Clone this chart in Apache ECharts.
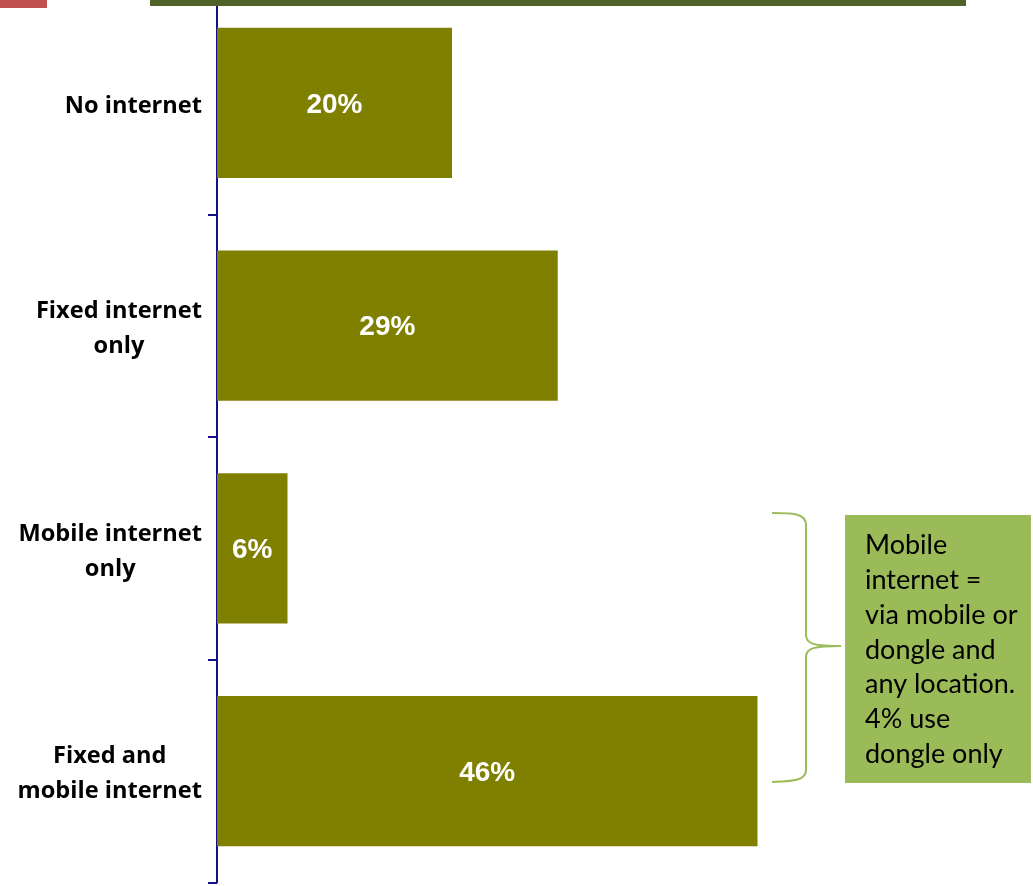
<!DOCTYPE html>
<html>
<head>
<meta charset="utf-8">
<title>Internet access</title>
<script src="https://cdn.jsdelivr.net/npm/echarts@6/dist/echarts.min.js"></script>
<style>
  html, body { margin: 0; padding: 0; background: #ffffff; }
  #chart { width: 1033px; height: 886px; }
</style>
</head>
<body>
<div id="chart"></div>
<script>
// Share of households by type of internet access (%)
const categories = ['No internet', 'Fixed internet\nonly', 'Mobile internet\nonly', 'Fixed and\nmobile internet'];
const shares = [20, 29, 6, 46];
const noteLines = ['Mobile', 'internet =', 'via mobile or', 'dongle and', 'any location.', '4% use', 'dongle only'];

const chart = echarts.init(document.getElementById('chart'), null, { renderer: 'canvas' });

// each line of a category label is centred inside its right-aligned block
function centredLines(text) {
  return text.split('\n').map(function (l) { return '{c|' + l + '}'; }).join('\n');
}

const bracketStyle = { fill: null, stroke: '#9bbb59', lineWidth: 2 };

chart.setOption({
  animation: false,
  backgroundColor: '#ffffff',
  grid: { left: 217, right: 111, top: -8.5, bottom: 3.5, containLabel: false, outerBoundsMode: 'none' },
  xAxis: {
    type: 'value',
    min: 0,
    max: 60,
    show: false
  },
  yAxis: {
    type: 'category',
    inverse: true,
    data: categories,
    axisLine: { show: true, lineStyle: { color: '#10108a', width: 2 } },
    axisTick: { show: true, length: 9, lineStyle: { color: '#10108a', width: 2 } },
    axisLabel: {
      margin: 15,
      padding: [6, 0, 0, 0],
      formatter: centredLines,
      rich: {
        c: {
          align: 'center',
          fontFamily: '"Open Sans", sans-serif',
          fontWeight: 'bold',
          fontSize: 23.6,
          lineHeight: 35,
          color: '#000000'
        }
      }
    },
    splitLine: { show: false }
  },
  series: [{
    type: 'bar',
    data: shares,
    barCategoryGap: '32.5%',
    itemStyle: { color: '#808000' },
    label: {
      show: true,
      position: 'inside',
      offset: [0, 2],
      formatter: function (p) { return p.value + '%'; },
      color: '#ffffff',
      fontFamily: '"Liberation Sans", Arial, sans-serif',
      fontWeight: 'bold',
      fontSize: 28
    }
  }],
  graphic: [
    { type: 'rect', z: 100, shape: { x: 0, y: 0, width: 47, height: 8 }, style: { fill: '#c0504d' } },
    { type: 'rect', z: 100, shape: { x: 150, y: 0, width: 816, height: 6 }, style: { fill: '#4f6228' } },
    // curly brace grouping the two mobile categories
    { type: 'bezierCurve', z: 100, shape: { x1: 772, y1: 513, cpx1: 792, cpy1: 513, cpx2: 806, cpy2: 513, x2: 806, y2: 525 }, style: bracketStyle },
    { type: 'line', z: 100, shape: { x1: 806, y1: 525, x2: 806, y2: 635 }, style: bracketStyle },
    { type: 'bezierCurve', z: 100, shape: { x1: 806, y1: 635, cpx1: 806, cpy1: 644, cpx2: 814, cpy2: 646, x2: 841, y2: 646 }, style: bracketStyle },
    { type: 'bezierCurve', z: 100, shape: { x1: 841, y1: 646, cpx1: 814, cpy1: 646, cpx2: 806, cpy2: 648, x2: 806, y2: 657 }, style: bracketStyle },
    { type: 'line', z: 100, shape: { x1: 806, y1: 657, x2: 806, y2: 770 }, style: bracketStyle },
    { type: 'bezierCurve', z: 100, shape: { x1: 806, y1: 770, cpx1: 806, cpy1: 781, cpx2: 792, cpy2: 781, x2: 772, y2: 782 }, style: bracketStyle },
    { type: 'rect', z: 100, shape: { x: 845, y: 515, width: 186, height: 268 }, style: { fill: '#9bbb59' } },
    {
      type: 'text', left: 865, top: 528, z: 101,
      style: {
        text: noteLines.join('\n'),
        fill: '#000000',
        font: '27px Lato, "Open Sans", sans-serif',
        lineHeight: 34.8
      }
    }
  ]
});
</script>
</body>
</html>
